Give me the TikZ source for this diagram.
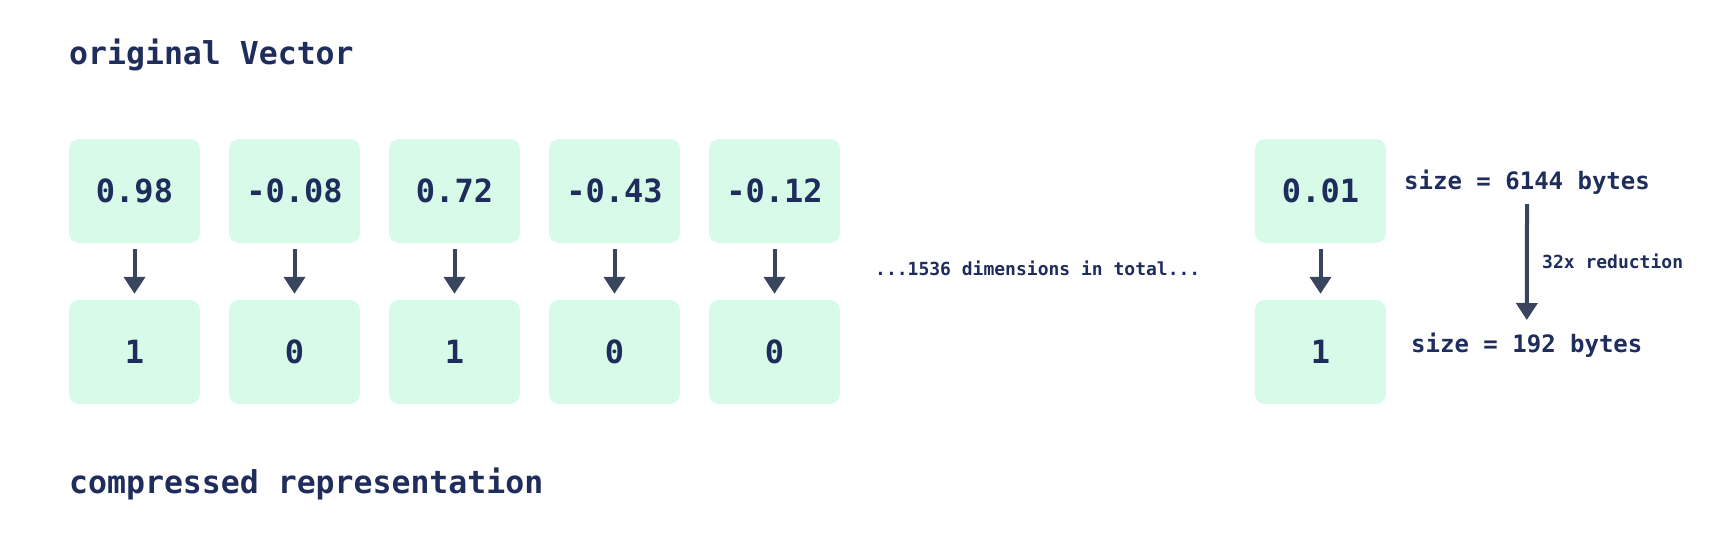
\documentclass[tikz,border=0pt]{standalone}
\usepackage{fontspec}
\setmonofont{DejaVu Sans Mono}
\newfontfamily\dmono{DejaVu Sans Mono}
\usetikzlibrary{arrows.meta}
\definecolor{txt}{HTML}{1E2D5C}
\definecolor{arr}{HTML}{39445F}
\definecolor{boxfill}{HTML}{D8FBE9}
\tikzset{
  valbox/.style={fill=boxfill, draw=none, rounded corners=10pt, minimum width=131pt, minimum height=104pt, inner sep=0pt, text=txt, font=\dmono\bfseries\fontsize{32}{36}\selectfont},
  title/.style={anchor=base west, inner sep=0pt, text=txt, font=\dmono\bfseries\fontsize{31.5}{36}\selectfont},
  sizetxt/.style={anchor=base west, inner sep=0pt, text=txt, font=\dmono\bfseries\fontsize{24}{28}\selectfont},
  smalltxt/.style={anchor=base west, inner sep=0pt, text=txt, font=\dmono\bfseries\fontsize{18}{22}\selectfont},
  conv/.style={draw=arr, line width=4pt, -{Triangle[width=21pt,length=17pt]}, shorten <=6pt, shorten >=6pt},
}
\begin{document}
\begin{tikzpicture}[x=1pt,y=-1pt]
\useasboundingbox (0,0) rectangle (1718,551);
\node[title] (t1) at (69,65) {original Vector};
\node[title] (t2) at (69,493) {compressed representation};
\foreach \i/\a/\b in {0/0.98/1, 1/-0.08/0, 2/0.72/1, 3/-0.43/0, 4/-0.12/0} {
  \node[valbox] (top\i) at ({134.5+160*\i},191) {\a};
  \node[valbox] (bot\i) at ({134.5+160*\i},352) {\b};
  \draw[conv] (top\i) -- (bot\i);
}
\node[valbox] (top5) at (1320.5,191) {0.01};
\node[valbox] (bot5) at (1320.5,352) {1};
\draw[conv] (top5) -- (bot5);
\node[smalltxt] (dots) at (875,275) {...1536 dimensions in total...};
\node[sizetxt] (sz1) at (1404,189) {size = 6144 bytes};
\node[sizetxt] (sz2) at (1411,352) {size = 192 bytes};
\draw[draw=arr, line width=4pt, -{Triangle[width=21pt,length=17pt]}] ([yshift=-15pt]sz1.base) -- ([yshift=32pt]sz2.base);
\node[smalltxt] (red) at (1542,268) {32x reduction};
\end{tikzpicture}
\end{document}
